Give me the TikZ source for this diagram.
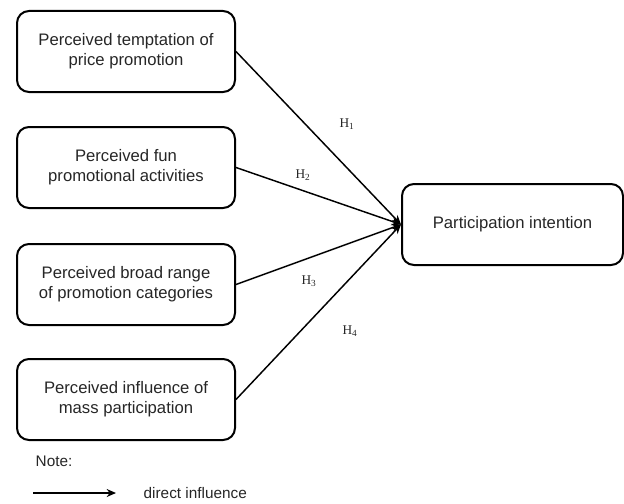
\documentclass[tikz,border=0pt]{standalone}
\usepackage{fontspec}
\setmainfont{Liberation Sans}
\newfontfamily\hypfont{Liberation Serif}
\usetikzlibrary{arrows.meta}

\begin{document}
\begin{tikzpicture}[x=0.75pt,y=-0.75pt,
    factor/.style = {draw, line width=1.5pt, rounded corners=9pt, minimum width=163.5pt,
                     minimum height=60.75pt, align=center, inner sep=0pt, text=black!85,
                     font=\fontsize{12.5}{15}\selectfont},
    link/.style   = {line width=1.1pt, -{Stealth[length=7pt,width=6pt]}},
    hyp/.style    = {text=black!85, font=\hypfont\fontsize{10}{11}\selectfont},
    legend/.style = {anchor=west, text=black!85, font=\fontsize{11.5}{13}\selectfont},
  ]
  \useasboundingbox (0,0) rectangle (624,503);
  % antecedents
  \node[factor](PT) at (126,51.5)  {Perceived temptation of\\price promotion};
  \node[factor](PF) at (126,167.5) {Perceived fun\\promotional activities};
  \node[factor](PB) at (126,284.5) {Perceived broad range\\of promotion categories};
  \node[factor](PM) at (126,399.5) {Perceived influence of\\mass participation};
  % outcome
  \node[factor, minimum width=165.75pt](PI) at (512.5,224.5) {Participation intention};

  \draw[link] (PT.east) -- (PI.west);
  \draw[link] (PF.east) -- (PI.west);
  \draw[link] (PB.east) -- (PI.west);
  \draw[link] (PM.east) -- (PI.west);

  \node[hyp](H1) at (347,124) {H\textsubscript{1}};
  \node[hyp](H2) at (303,175) {H\textsubscript{2}};
  \node[hyp](H3) at (309,281) {H\textsubscript{3}};
  \node[hyp](H4) at (350,331) {H\textsubscript{4}};

  % legend
  \node[legend](note) at (31,461) {Note:};
  \coordinate (la) at (33,493);
  \coordinate (lb) at (116,493);
  \draw[link] (la) -- (lb);
  \node[legend](direct) at (139,493) {direct influence};
\end{tikzpicture}
\end{document}
